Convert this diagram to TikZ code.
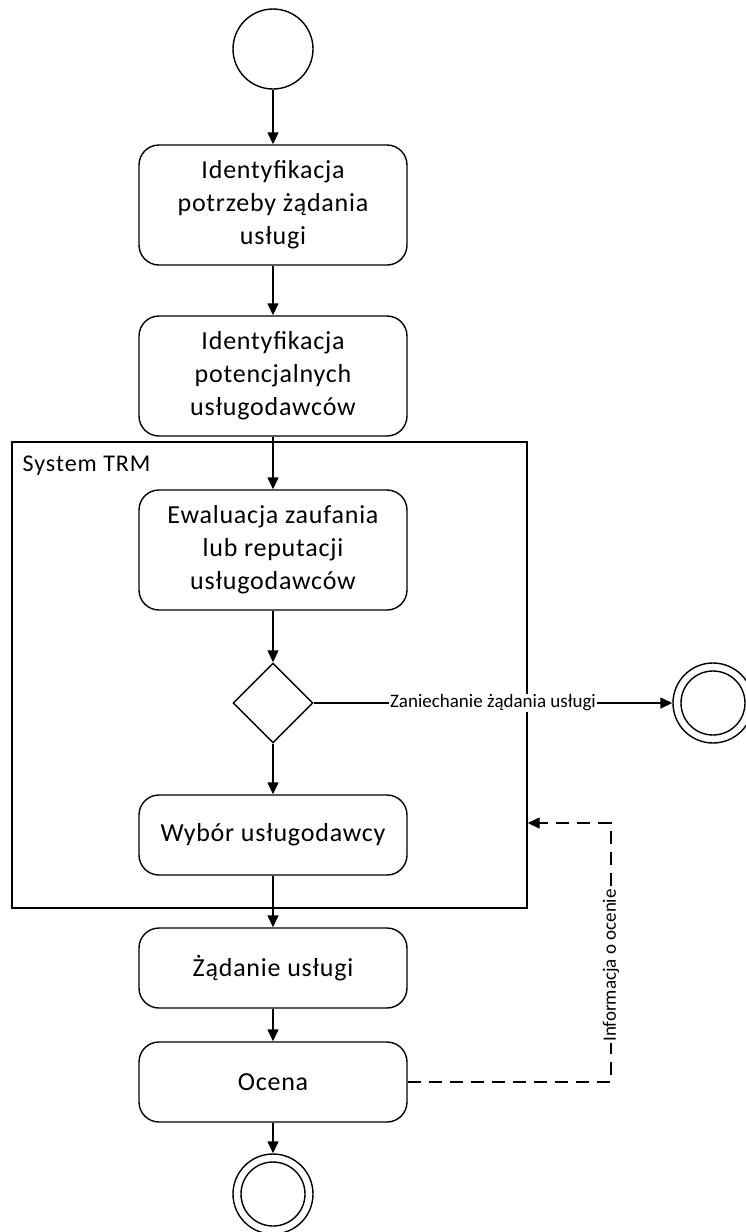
\documentclass[tikz,border=0pt]{standalone}
\usepackage{fontspec}
\setmainfont{Carlito}
\usetikzlibrary{arrows.meta,shapes.geometric}
\begin{document}
\begin{tikzpicture}[x=1pt,y=-1pt,
  line width=1.4pt,
  act/.style={draw, rounded corners=20pt, minimum width=268pt, minimum height=120pt,
    align=center, font=\fontsize{26}{33}\selectfont\addfontfeature{LetterSpace=3}, inner sep=0pt},
  startnode/.style={draw, circle, minimum size=80pt, inner sep=0pt},
  endnode/.style={draw, circle, minimum size=80pt, inner sep=0pt,
    path picture={\draw[line width=1.4pt] (path picture bounding box.center) circle (32pt);}},
  flow/.style={-{Triangle[length=12pt,width=11pt]}},
  elabel/.style={fill=white, inner sep=1pt, font=\fontsize{19}{21}\selectfont}
]
\useasboundingbox (0,0) rectangle (745,1232);

% swimlane frame of the TRM system
\node[draw, minimum width=515pt, minimum height=466pt, inner sep=0pt] (lane) at (269.5,675) {};
\node[anchor=north west, font=\fontsize{24}{26}\selectfont\addfontfeature{LetterSpace=4}, inner sep=0pt] (laneTitle) at (22,455) {System TRM};

% initial state
\node[startnode] (start) at (273,49) {};

% activities
\node[act] (a1) at (273,205) {Identyfikacja\\potrzeby żądania\\usługi};
\node[act, minimum height=120pt] (a2) at (273,376) {Identyfikacja\\potencjalnych\\usługodawców};
\node[act] (a3) at (273,550) {Ewaluacja zaufania\\lub reputacji\\usługodawców};
\node[draw, diamond, minimum width=80pt, minimum height=80pt, inner sep=0pt, aspect=1] (dec) at (273,703) {};
\node[act, minimum height=80pt] (a4) at (273,835) {Wybór usługodawcy};
\node[act, minimum height=80pt] (a5) at (273,968) {Żądanie usługi};
\node[act, minimum height=80pt] (a6) at (273,1082) {Ocena};

% final states
\node[endnode] (endA) at (713,703) {};
\node[endnode] (endB) at (273,1194) {};

% control flow
\draw[flow] (start) -- (a1);
\draw[flow] (a1) -- (a2);
\draw[flow] (a2) -- (a3);
\draw[flow] (a3) -- (dec);
\draw[flow] (dec) -- (a4);
\draw[flow] (a4) -- (a5);
\draw[flow] (a5) -- (a6);
\draw[flow] (a6) -- (endB);
\draw[flow] (dec) -- node[elabel, pos=0.5] {Zaniechanie żądania usługi} (endA);

% feedback from the evaluation back into the system
\coordinate (fb1) at (611,1082);
\coordinate (fb2) at (611,823);
\draw[flow, dash pattern=on 13pt off 8pt] (a6.east) -- (fb1) --
  node[elabel, rotate=90, pos=0.45] {Informacja o ocenie} (fb2) -- (lane.east |- fb2);
\end{tikzpicture}
\end{document}
